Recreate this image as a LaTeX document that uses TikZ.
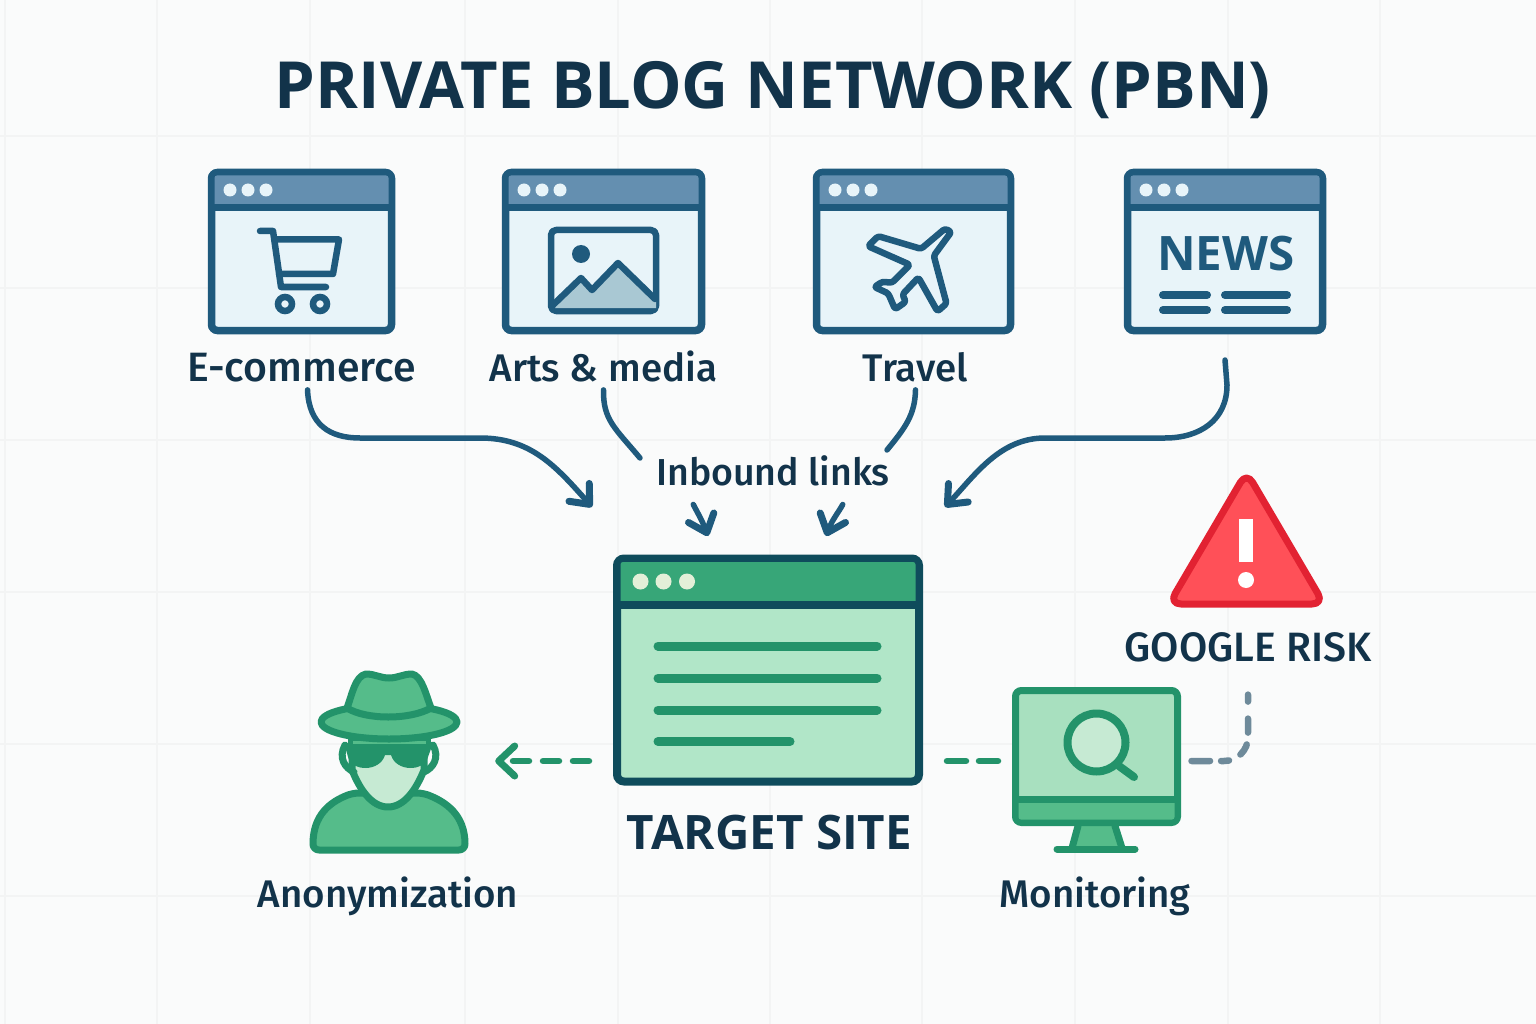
\documentclass[tikz,border=0pt]{standalone}
\usepackage{fontspec}
\setmainfont{Open Sans}
\newfontfamily\labelfont{Fira Sans Medium}
\usepackage{xcolor}
\usetikzlibrary{positioning,calc,arrows.meta}
\definecolor{paper}{HTML}{FAFBFB}
\definecolor{gridline}{HTML}{F3F4F4}
\definecolor{inkdark}{HTML}{12334A}
\definecolor{frameblue}{HTML}{1F5A7D}
\definecolor{barblue}{HTML}{648FB0}
\definecolor{bodyblue}{HTML}{E8F4F9}
\definecolor{rockblue}{HTML}{A9C8D3}
\definecolor{framedeep}{HTML}{0F4C5C}
\definecolor{bargreen}{HTML}{37A678}
\definecolor{bodygreen}{HTML}{B1E6C8}
\definecolor{dotgreen}{HTML}{E3EFD8}
\definecolor{linegreen}{HTML}{23936A}
\definecolor{midgreen}{HTML}{55BC8A}
\definecolor{palegreen}{HTML}{C6EAD3}
\definecolor{screengreen}{HTML}{A8E0BF}
\definecolor{riskgrey}{HTML}{6E8A9A}
\definecolor{riskred}{HTML}{E22232}
\definecolor{riskfill}{HTML}{FF5058}

\begin{document}
\begin{tikzpicture}[x=1pt,y=-1pt,
				webwin/.style={
					draw=frameblue, line width=7.5pt, fill=bodyblue,
					rounded corners=6pt, inner sep=0pt, outer sep=0pt,
					minimum height=158pt,
				},
				sitelabel/.style={
					text=inkdark, inner sep=0pt,
					font=\labelfont\fontsize{38.5}{38.5}\selectfont,
					text height=27pt, text depth=8pt,
				},
				iconline/.style={draw=frameblue, line width=6.5pt, line join=round, line cap=round},
				barline/.style={draw=frameblue, line width=8pt, line cap=round},
				greenicon/.style={draw=linegreen, line width=7pt, line join=round, line cap=round},
				bluelink/.style={
					draw=frameblue, line width=5.5pt, line cap=round,
					-{Straight Barb[round,length=16pt,width=27pt,line width=7pt]},
				},
				bluecurve/.style={draw=frameblue, line width=5.5pt, line cap=round},
				dashlink/.style={
					line width=6.5pt, line cap=round, dash pattern=on 16pt off 14pt,
				},
				]
				% paper and faint grid
				\fill[paper] (0,0) rectangle (1536,1024);
				\useasboundingbox (0,0) rectangle (1536,1024);
				\foreach \gx in {5,157,310,465,618,770,922,1075,1228,1380}
					\draw[gridline, line width=2pt] (\gx,0) -- (\gx,1024);
				\foreach \gy in {136,288,440,592,744,896}
					\draw[gridline, line width=2pt] (0,\gy) -- (1536,\gy);
				
				\node[text=inkdark, font=\fontsize{65}{65}\selectfont\bfseries] (title) at (773,90) {PRIVATE BLOG NETWORK (PBN)};
				
				% the four sites
				\foreach \sid/\cx/\ww in {shop/301.5/180, arts/603.5/196, travel/913.5/194, news/1225/195}{
					\node[webwin, minimum width=\ww pt] (\sid) at (\cx,251.5) {};
					\fill[barblue, rounded corners=2.5pt] ($(\sid.north west)+(3,3)$) rectangle ($(\sid.north east)+(-3,35)$);
					\draw[frameblue, line width=7pt] ($(\sid.north west)+(0,35)$) -- ($(\sid.north east)+(0,35)$);
					\foreach \dx in {18.5,36.5,54.5}
						\fill[bodyblue] ($(\sid.north west)+(\dx,17.5)$) circle (6.5pt);
				}
				
				\node[sitelabel, font=\labelfont\fontsize{41}{41}\selectfont, below=24pt of shop] (shoplabel) {E-commerce};
				\node[sitelabel, below=24pt of arts] (artslabel) {Arts \& media};
				\node[sitelabel, below=24pt of travel, xshift=2pt] (travellabel) {Travel};
				
				% cart
				\draw[iconline] (260,231) -- (273,231) -- (281,287) -- (326,287);
				\draw[iconline] (275,239.5) -- (339,239.5) -- (333,274) -- (279,274);
				\draw[frameblue, line width=6.5pt, fill=bodyblue] (285,304) circle (7pt);
				\draw[frameblue, line width=6.5pt, fill=bodyblue] (320,304) circle (7pt);
				
				% picture
				\draw[iconline, rounded corners=5pt] (551,230) rectangle (656,311);
				\fill[frameblue] (581,254) circle (9pt);
				\fill[rockblue] (555,308) -- (581,278) -- (591,290) -- (618,263) -- (656,300) -- (656,308) -- cycle;
				\draw[iconline] (553,305) -- (581,278) -- (592,290) -- (618,263) -- (655,299);
				
				% plane
				\draw[iconline, rounded corners=2.5pt, scale around={1.06:(911,269)}] (949,234) -- (932.5,256.5) -- (944.5,301.5) -- (936,309) -- (918,277)
					-- (903,293) -- (906,300) -- (896,307) -- (889.5,292) -- (876.5,286) -- (884,281) -- (893,282)
					-- (910,265) -- (870.5,247.5) -- (880,238) -- (920.5,250) -- (943,231) -- cycle;
				
				% newspaper
				\node[text=frameblue, inner sep=0pt, font=\fontsize{47.5}{47.5}\selectfont\bfseries] (newsword) at (1226,254) {NEWS};
				\draw[barline] (1163,295) -- (1207,295);
				\draw[barline] (1225,295) -- (1287,295);
				\draw[barline] (1163,310) -- (1207,310);
				\draw[barline] (1225,310) -- (1287,310);
				
				% target site
				\node[draw=framedeep, line width=8pt, fill=bodygreen, rounded corners=7pt, inner sep=0pt, outer sep=0pt,
					minimum width=302pt, minimum height=223pt] (target) at (768,670) {};
				\fill[bargreen, rounded corners=2.5pt] ($(target.north west)+(3.5,3.5)$) rectangle ($(target.north east)+(-3.5,46)$);
				\draw[framedeep, line width=8pt] ($(target.north west)+(0,46)$) -- ($(target.north east)+(0,46)$);
				\foreach \dx in {23.5,46.5,70}
					\fill[dotgreen] ($(target.north west)+(\dx,23)$) circle (8pt);
				\foreach \ly in {646,678,710}
					\draw[linegreen, line width=9pt, line cap=round] (658,\ly) -- (877,\ly);
				\draw[linegreen, line width=9pt, line cap=round] (658,741.5) -- (790,741.5);
				\node[text=inkdark, inner sep=0pt, font=\fontsize{47.5}{47.5}\selectfont\bfseries, below=33pt of target, xshift=1.5pt] (targetlabel) {TARGET SITE};
				
				% anonymization
				\node[minimum width=160pt, minimum height=186pt, inner sep=0pt] (anon) at (388,760) {};
				\draw[greenicon, fill=midgreen, rounded corners=6pt] (353,793)
					.. controls (330,802) and (313,815) .. (313,850) -- (465,850)
					.. controls (465,815) and (446,802) .. (423,793) -- cycle;
				\draw[greenicon, fill=palegreen] (352,745) -- (424,745) -- (424,770)
					.. controls (416,790) and (404,807) .. (388,807)
					.. controls (372,807) and (360,790) .. (352,770) -- cycle;
				\draw[greenicon] (345,745) .. controls (338,758) and (345,768) .. (354,772);
				\draw[greenicon] (433,745) .. controls (440,758) and (433,768) .. (424,772);
				\fill[linegreen] (345,746) -- (432,746) -- (428,757)
					.. controls (424,772) and (396,772) .. (391,755) -- (385,755)
					.. controls (380,772) and (352,772) .. (348,757) -- cycle;
				\draw[linegreen, fill=midgreen, line width=5pt] (350,738) rectangle (428,746);
				\draw[greenicon, fill=midgreen] (389,722) ellipse (68pt and 17pt);
				\draw[greenicon, fill=midgreen] (347,708) .. controls (352,695) and (355,676) .. (366,674)
					.. controls (375,674) and (380,678) .. (389,678)
					.. controls (398,678) and (403,674) .. (412,674)
					.. controls (422,676) and (426,695) .. (431,708)
					.. controls (410,720) and (366,720) .. (347,708) -- cycle;
				\node[sitelabel, below=27pt of anon] (anonlabel) {Anonymization};
				
				% monitoring
				\fill[midgreen] (1078,826) -- (1115,826) -- (1122,848) -- (1072,848) -- cycle;
				\draw[greenicon] (1078,826) -- (1072,848);
				\draw[greenicon] (1115,826) -- (1122,848);
				\draw[greenicon] (1057,849) -- (1135,849);
				\node[draw=linegreen, line width=7pt, fill=screengreen, rounded corners=6pt, inner sep=0pt, outer sep=0pt,
					minimum width=162pt, minimum height=132pt] (monitor) at (1096.5,756.5) {};
				\fill[midgreen, rounded corners=2.5pt] ($(monitor.south west)+(3,-3)$) rectangle ($(monitor.south east)+(-3,-23)$);
				\draw[linegreen, line width=7pt] ($(monitor.south west)+(0,-23)$) -- ($(monitor.south east)+(0,-23)$);
				\draw[linegreen, line width=8pt, fill=palegreen] (1096.5,742.5) circle (29pt);
				\draw[linegreen, line width=8pt, line cap=round] (1119,766) -- (1134,777);
				\node[sitelabel, below=58pt of monitor, xshift=-1.5pt] (monitorlabel) {Monitoring};
				
				% warning sign
				\node[minimum width=150pt, minimum height=132pt, inner sep=0pt] (warning) at (1246.5,541) {};
				\draw[riskred, fill=riskfill, line width=7pt, line join=round, rounded corners=12pt] (1246.5,472) -- (1324,604) -- (1169,604) -- cycle;
				\fill[white] (1239,519) rectangle (1253,562);
				\fill[white] (1246,580) circle (8pt);
				\node[sitelabel, font=\labelfont\fontsize{41}{41}\selectfont, below=27pt of warning, xshift=1.5pt] (risklabel) {GOOGLE RISK};
				
				% inbound links
				\node[sitelabel, font=\labelfont\fontsize{37.5}{37.5}\selectfont] (inbound) at (773,476) {Inbound links};
				\coordinate (shopend) at (592,507);
				\coordinate (artsend) at (640,458);
				\coordinate (travelend) at (887,450);
				\coordinate (newsend) at (945,507);
				\coordinate (lefttip) at (708,536);
				\coordinate (righttip) at (826,536);
				\coordinate (dashlevel) at (0,761);
				
				\draw[bluelink] ([xshift=6pt]shoplabel.south) .. controls (309,425) and (330,438) .. (360,438)
					-- (480,438) .. controls (530,438) and (555,465) .. (shopend);
				\draw[bluecurve] (artslabel.south) .. controls (603,420) and (615,428) .. (artsend);
				\draw[bluecurve] (travellabel.south) .. controls (915,415) and (905,428) .. (travelend);
				\draw[bluelink] (news.south |- 0,360) -- (1227,385) .. controls (1227,420) and (1200,438) .. (1165,438)
					-- (1045,438) .. controls (1000,438) and (975,475) .. (newsend);
				\draw[bluelink, shorten <=12pt] (inbound.south -| 688,0) .. controls (696,510) and (702,520) .. (lefttip);
				\draw[bluelink, shorten <=12pt] (inbound.south -| 848,0) .. controls (840,510) and (832,520) .. (righttip);
				
				% dashed links
				\draw[dashlink, linegreen, shorten <=28pt, shorten >=27pt, -{Straight Barb[round,length=16pt,width=30pt,line width=7pt]}]
					(target.west |- dashlevel) -- (anon.east |- dashlevel);
				\draw[dashlink, linegreen, dash pattern=on 19pt off 13pt, shorten <=28pt, shorten >=15pt] (target.east |- dashlevel) -- (monitor.west |- dashlevel);
				\draw[dashlink, riskgrey, rounded corners=24pt, shorten <=25pt, shorten >=14pt,
					dash pattern=on 7pt off 17pt on 14pt off 12pt on 12pt off 13pt on 8pt off 11pt on 20pt off 20pt]
					(risklabel.south) |- (monitor.east |- dashlevel);
			\end{tikzpicture}
\end{document}
